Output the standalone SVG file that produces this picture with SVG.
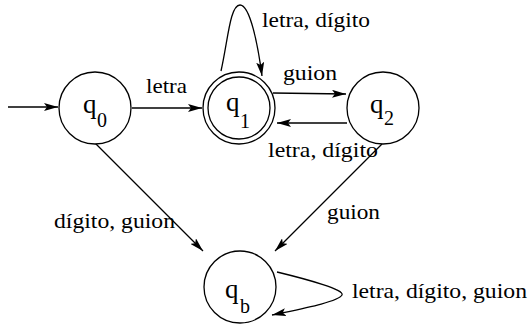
<svg xmlns="http://www.w3.org/2000/svg" width="530" height="327" viewBox="0 0 530 327">
<style>
.n{fill:#fff;stroke:#000;stroke-width:1.3}
.e{fill:none;stroke:#000;stroke-width:1.3;marker-end:url(#ah)}
.q{font-size:27px}
.s{font-size:20px}
.l{font-size:21px}
</style>
<defs>
<marker id="ah" viewBox="0 0 14 8" refX="14" refY="4" markerWidth="14" markerHeight="8" markerUnits="userSpaceOnUse" orient="auto">
<path d="M0,0 L14,4 L0,8 L3,4 Z" fill="#000"/>
</marker>
</defs>
<g font-family="Liberation Serif, Times New Roman, serif" fill="#000">
<g id="connectors">
<path class="e" d="M8,107 L58,107"/>
<path class="e" d="M132,108 L202,108"/>
<text class="l" x="146" y="93" textLength="41" lengthAdjust="spacingAndGlyphs">letra</text>
<path class="e" d="M221,71 C228,40 230,5 240,5 C250,5 258,45 262,76"/>
<text class="l" x="262" y="27" textLength="108" lengthAdjust="spacingAndGlyphs">letra, dígito</text>
<path class="e" d="M273,93 L346,94"/>
<text class="l" x="283" y="80" textLength="54" lengthAdjust="spacingAndGlyphs">guion</text>
<path class="e" d="M347,123 L277,123"/>
<text class="l" x="268" y="157" textLength="110" lengthAdjust="spacingAndGlyphs">letra, dígito</text>
<path class="e" d="M382,144 L275,251"/>
<text class="l" x="327" y="219" textLength="53" lengthAdjust="spacingAndGlyphs">guion</text>
<path class="e" d="M95,143 L203,251"/>
<text class="l" x="54" y="228" textLength="121" lengthAdjust="spacingAndGlyphs">dígito, guion</text>
<path class="e" d="M277,272 C310,280 345,290 342,295 C338,302 300,309 272,315"/>
<text class="l" x="352" y="298" textLength="175" lengthAdjust="spacingAndGlyphs">letra, dígito, guion</text>
</g>
<g id="q0">
<circle class="n" cx="95" cy="108" r="36"/>
<text class="q" x="83" y="113">q</text><text class="s" x="97" y="127">0</text>
</g>
<g id="q1">
<circle class="n" cx="239" cy="108" r="36"/>
<circle class="n" cx="239" cy="108" r="31"/>
<text class="q" x="226" y="111">q</text><text class="s" x="240" y="128">1</text>
</g>
<g id="q2">
<circle class="n" cx="383" cy="108" r="36"/>
<text class="q" x="370" y="113">q</text><text class="s" x="384" y="125">2</text>
</g>
<g id="qb">
<circle class="n" cx="240" cy="287" r="36"/>
<text class="q" x="225" y="298">q</text><text class="s" x="240" y="313">b</text>
</g>
</g>
</svg>
